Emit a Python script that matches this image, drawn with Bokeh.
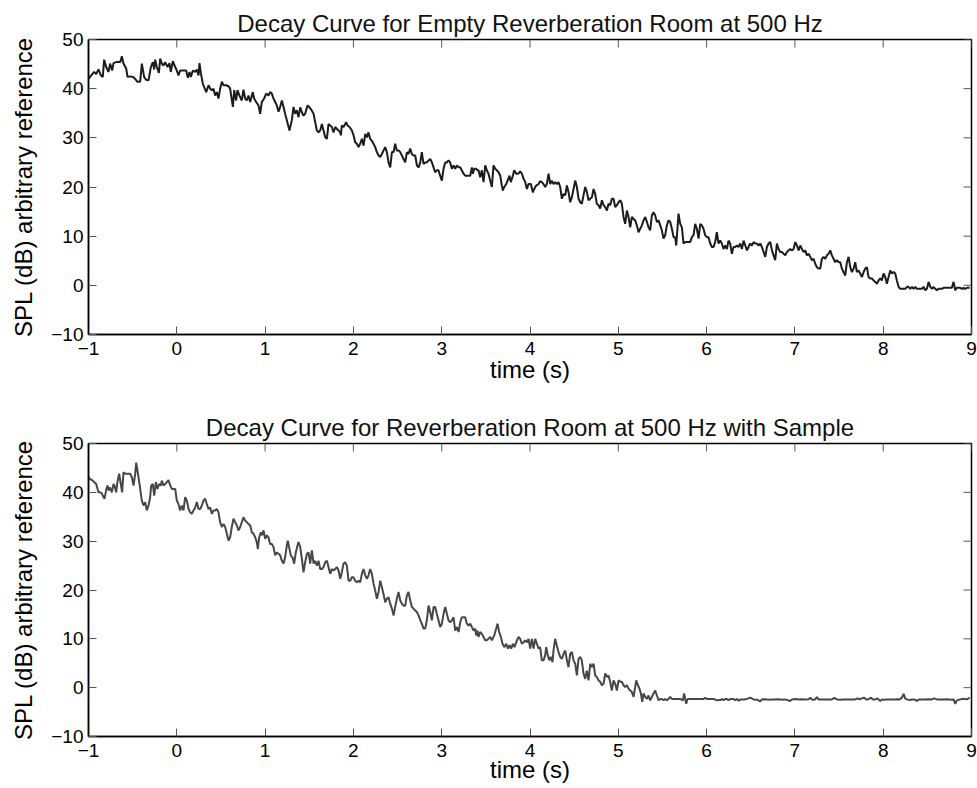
import math
from bokeh.plotting import figure
from bokeh.layouts import column
from bokeh.models import Range1d, FixedTicker
from bokeh.embed import file_html
from bokeh.resources import INLINE

# ---------------- data (time in s, SPL in dB) ----------------
titles = ["Decay Curve for Empty Reverberation Room at 500 Hz",
          "Decay Curve for Reverberation Room at 500 Hz with Sample"]
x_label = "time (s)"
y_label = "SPL (dB) arbitrary reference"
x_ticks = [-1, 0, 1, 2, 3, 4, 5, 6, 7, 8, 9]
y_ticks = [-10, 0, 10, 20, 30, 40, 50]
x_lim = (-1, 9)
y_lim = (-10, 50)

empty_room = [
    (-1.0, 42.0), (-0.936, 43.4), (-0.913, 43.0), (-0.887, 43.9), (-0.86, 42.7), (-0.838, 42.4), (-0.823, 45.9),
    (-0.8, 44.4), (-0.774, 43.4), (-0.755, 45.1), (-0.732, 43.7), (-0.717, 45.2), (-0.687, 45.4), (-0.66, 45.4),
    (-0.641, 45.4), (-0.622, 46.6), (-0.604, 45.1), (-0.573, 44.1), (-0.558, 42.4), (-0.528, 42.5), (-0.498, 42.4),
    (-0.472, 42.0), (-0.445, 41.4), (-0.415, 41.4), (-0.396, 45.1), (-0.37, 42.4), (-0.347, 41.8), (-0.32, 41.7),
    (-0.294, 44.4), (-0.271, 45.4), (-0.256, 43.9), (-0.245, 45.9), (-0.226, 44.4), (-0.203, 43.2), (-0.188, 46.1),
    (-0.169, 45.1), (-0.151, 44.7), (-0.132, 45.4), (-0.105, 44.4), (-0.083, 45.2), (-0.068, 43.4), (-0.045, 45.6),
    (-0.018, 44.4), (0.0, 43.7), (0.019, 42.7), (0.038, 43.7), (0.076, 43.7), (0.106, 43.7), (0.125, 42.2),
    (0.144, 43.4), (0.159, 42.4), (0.182, 43.7), (0.208, 43.4), (0.227, 43.9), (0.246, 42.7), (0.257, 45.2),
    (0.272, 43.2), (0.295, 41.0), (0.31, 40.3), (0.333, 39.3), (0.359, 40.7), (0.378, 40.0), (0.397, 39.7),
    (0.416, 40.0), (0.434, 38.6), (0.453, 39.3), (0.472, 38.0), (0.491, 40.0), (0.51, 41.4), (0.529, 40.7),
    (0.559, 40.7), (0.586, 40.5), (0.604, 40.0), (0.635, 36.3), (0.65, 39.7), (0.672, 37.6), (0.687, 39.7),
    (0.71, 38.6), (0.736, 37.6), (0.755, 39.8), (0.774, 38.0), (0.793, 37.6), (0.812, 38.6), (0.831, 37.3),
    (0.861, 39.3), (0.876, 38.0), (0.899, 37.3), (0.925, 36.6), (0.944, 34.9), (0.963, 37.3), (0.989, 38.0),
    (1.012, 39.0), (1.038, 38.6), (1.057, 39.3), (1.076, 39.0), (1.095, 38.0), (1.114, 37.3), (1.133, 36.6),
    (1.152, 35.3), (1.171, 36.3), (1.19, 37.6), (1.208, 36.3), (1.227, 34.9), (1.246, 33.6), (1.276, 31.5),
    (1.303, 33.6), (1.322, 36.3), (1.34, 34.9), (1.359, 35.6), (1.378, 34.2),
    (1.398, 36.2), (1.416, 35.2), (1.435, 34.5), (1.454, 34.9), (1.481, 36.6), (1.503, 36.2), (1.53, 35.5),
    (1.549, 34.9), (1.567, 33.2), (1.586, 31.5), (1.605, 31.1), (1.624, 31.5), (1.643, 32.8), (1.662, 31.5),
    (1.681, 30.1), (1.7, 29.8), (1.718, 32.8), (1.737, 32.5), (1.756, 32.2), (1.775, 31.1), (1.794, 32.2),
    (1.813, 31.8), (1.832, 31.5), (1.851, 31.1), (1.858, 30.5), (1.869, 32.5), (1.888, 32.2), (1.907, 32.8),
    (1.918, 33.2), (1.934, 32.5), (1.956, 32.2), (1.983, 31.5), (2.002, 30.5), (2.02, 29.1), (2.039, 28.8),
    (2.058, 28.1), (2.077, 28.8), (2.096, 29.8), (2.115, 28.4), (2.134, 30.8), (2.153, 30.1), (2.171, 31.1),
    (2.19, 29.8), (2.209, 29.4), (2.228, 28.8), (2.247, 28.1), (2.266, 27.1), (2.285, 26.4), (2.304, 26.1),
    (2.322, 26.7), (2.341, 27.4), (2.36, 28.1), (2.379, 27.1), (2.398, 25.0), (2.417, 24.0), (2.436, 27.1),
    (2.455, 27.1), (2.473, 28.8), (2.492, 27.4), (2.511, 27.4), (2.53, 27.1), (2.549, 26.4), (2.568, 25.7),
    (2.587, 25.0), (2.606, 27.1), (2.624, 26.7), (2.643, 27.8), (2.662, 26.7), (2.681, 26.4), (2.7, 26.4),
    (2.719, 24.4), (2.738, 24.0), (2.757, 25.0), (2.775, 27.1), (2.794, 24.7), (2.813, 25.0), (2.832, 25.0),
    (2.851, 25.4), (2.87, 25.7), (2.889, 25.0), (2.908, 24.0), (2.926, 23.0), (2.945, 23.4), (2.964, 23.4),
    (2.983, 22.3), (3.002, 21.3), (3.021, 23.7), (3.04, 25.0), (3.059, 25.0), (3.077, 25.4), (3.096, 25.0),
    (3.115, 23.7), (3.134, 24.4), (3.153, 23.7), (3.172, 24.4), (3.191, 24.0), (3.21, 24.0), (3.228, 23.4),
    (3.247, 22.7), (3.266, 22.3), (3.285, 22.3), (3.304, 22.3), (3.323, 22.3), (3.342, 24.0), (3.353, 22.7),
    (3.368, 23.7), (3.391, 23.7), (3.406, 23.4), (3.417, 23.4), (3.436, 22.0), (3.455, 23.4), (3.474, 21.0),
    (3.493, 24.4), (3.511, 23.4), (3.53, 22.7), (3.549, 21.3), (3.568, 20.0), (3.587, 24.4), (3.606, 23.7),
    (3.625, 23.4), (3.644, 23.0), (3.663, 22.3), (3.681, 20.3), (3.693, 19.3), (3.708, 20.0), (3.731, 20.6),
    (3.746, 21.3), (3.768, 22.3), (3.783, 21.0), (3.806, 22.3), (3.821, 23.4), (3.844, 22.7), (3.859, 22.7),
    (3.874, 22.8),
    (3.889, 23.2), (3.908, 22.7), (3.927, 21.7), (3.946, 21.0), (3.965, 19.6), (3.983, 20.6), (4.01, 20.6),
    (4.032, 18.9), (4.048, 19.6), (4.07, 20.3), (4.097, 20.6), (4.115, 21.2), (4.134, 21.0), (4.153, 20.6),
    (4.172, 20.0), (4.191, 20.6), (4.21, 22.7), (4.229, 20.6), (4.248, 21.3), (4.266, 20.6), (4.285, 21.0),
    (4.304, 20.6), (4.323, 21.0), (4.342, 20.0), (4.361, 17.6), (4.38, 18.6), (4.399, 18.3), (4.418, 20.3),
    (4.436, 19.0), (4.455, 16.9), (4.474, 17.9), (4.493, 19.6), (4.512, 21.3), (4.531, 20.0), (4.55, 17.6),
    (4.569, 16.9), (4.587, 16.6), (4.606, 18.3), (4.625, 20.0), (4.644, 19.0), (4.663, 17.3), (4.682, 17.6),
    (4.701, 17.9), (4.72, 19.6), (4.738, 18.6), (4.757, 16.6), (4.776, 16.3), (4.795, 15.6), (4.814, 17.3),
    (4.833, 16.3), (4.852, 15.9), (4.871, 15.2), (4.889, 16.6), (4.908, 16.3), (4.927, 17.6), (4.946, 17.6),
    (4.965, 15.9), (4.984, 16.3), (5.003, 16.9), (5.022, 17.3), (5.04, 16.6), (5.059, 13.9), (5.078, 12.5),
    (5.097, 15.2), (5.116, 13.9), (5.135, 11.8), (5.154, 13.9), (5.173, 13.5), (5.191, 13.2), (5.21, 12.2),
    (5.229, 10.8), (5.248, 11.5), (5.267, 12.2), (5.286, 13.2), (5.305, 13.9), (5.324, 12.9), (5.342, 11.8),
    (5.361, 11.2), (5.38, 14.2), (5.399, 14.9), (5.418, 14.2), (5.437, 12.9), (5.456, 13.2), (5.475, 12.2),
    (5.493, 11.2), (5.512, 9.5), (5.531, 10.2), (5.55, 12.2), (5.569, 13.2), (5.588, 12.9), (5.607, 11.5),
    (5.626, 9.8), (5.644, 9.8), (5.656, 8.1), (5.671, 11.8), (5.682, 14.6), (5.701, 12.5), (5.72, 11.8),
    (5.739, 8.5), (5.758, 8.8), (5.777, 8.8), (5.795, 8.8), (5.814, 8.8), (5.833, 9.8), (5.852, 10.2),
    (5.871, 12.5), (5.89, 11.5), (5.909, 9.5), (5.928, 12.5), (5.946, 12.2), (5.965, 11.5), (5.984, 10.2),
    (6.003, 9.8), (6.022, 9.8), (6.041, 8.5), (6.06, 7.8), (6.079, 7.8), (6.097, 8.8), (6.116, 10.8),
    (6.135, 8.5), (6.154, 9.1), (6.173, 8.5), (6.192, 7.4), (6.211, 8.1), (6.23, 7.4), (6.248, 9.1),
    (6.267, 8.5), (6.286, 6.4), (6.305, 7.8), (6.324, 7.8), (6.343, 8.1), (6.362, 7.8),
    (6.381, 8.5), (6.4, 7.4), (6.419, 9.1), (6.438, 8.1), (6.457, 7.1), (6.475, 7.8), (6.494, 8.5),
    (6.513, 8.1), (6.532, 8.8), (6.551, 8.5), (6.57, 8.5), (6.589, 8.1), (6.608, 8.5), (6.626, 7.8),
    (6.645, 6.8), (6.664, 5.8), (6.683, 7.8), (6.702, 8.5), (6.721, 8.8), (6.74, 7.1), (6.759, 6.1),
    (6.777, 5.1), (6.796, 8.5), (6.815, 7.4), (6.834, 6.8), (6.853, 6.8), (6.872, 6.4), (6.891, 6.1),
    (6.91, 6.8), (6.928, 7.1), (6.947, 7.4), (6.966, 7.1), (6.985, 7.4), (7.004, 8.8), (7.023, 8.1),
    (7.042, 7.1), (7.061, 8.1), (7.079, 7.4), (7.098, 6.8), (7.117, 7.1), (7.136, 6.1), (7.155, 6.4),
    (7.174, 5.8), (7.193, 5.1), (7.212, 5.4), (7.23, 4.4), (7.249, 3.7), (7.268, 3.4), (7.287, 3.4),
    (7.306, 5.4), (7.325, 5.8), (7.344, 5.4), (7.363, 6.1), (7.381, 6.4), (7.4, 7.1), (7.419, 6.1),
    (7.438, 5.4), (7.457, 4.7), (7.476, 5.1), (7.495, 4.7), (7.514, 4.7), (7.532, 3.4), (7.551, 2.7),
    (7.57, 2.0), (7.589, 4.7), (7.608, 5.8), (7.627, 3.7), (7.646, 2.7), (7.665, 3.4), (7.683, 4.7),
    (7.702, 2.7), (7.721, 3.0), (7.74, 2.4), (7.759, 1.7), (7.778, 2.7), (7.797, 3.4), (7.816, 3.7),
    (7.834, 1.7), (7.853, 1.4), (7.872, 1.4), (7.891, 1.0), (7.91, 0.7), (7.929, 0.3), (7.948, 1.0),
    (7.967, 1.4), (7.985, 1.0), (8.004, 2.4), (8.023, 1.7), (8.042, 0.3), (8.061, 1.7), (8.08, 3.0),
    (8.099, 2.4), (8.118, 2.7), (8.136, 2.4), (8.155, 1.0), (8.174, -0.3), (8.193, -0.7), (8.212, -0.7),
    (8.231, -0.7), (8.25, -0.7), (8.269, -0.3), (8.287, -0.3), (8.306, -0.7), (8.325, -0.3), (8.344, -0.7),
    (8.363, -0.3), (8.382, -0.7), (8.401, -0.7), (8.42, -0.7), (8.438, -0.7), (8.457, -0.3), (8.476, -1.0),
    (8.495, -0.7), (8.514, 0.7), (8.533, -0.3), (8.552, -0.7), (8.57, -0.3), (8.589, -0.7), (8.608, -1.0),
    (8.627, -0.7), (8.646, -0.7), (8.665, -0.7), (8.684, -0.5), (8.703, -0.5), (8.721, -0.5), (8.74, -0.5),
    (8.759, -0.5), (8.778, -0.5), (8.797, 0.7), (8.816, -1.0), (8.835, -0.5), (8.854, -0.5), (8.872, -0.5),
    (8.891, -0.7), (8.91, -0.5), (8.929, -0.7), (8.948, -0.5), (8.979, -0.5),
]

with_sample = [
    (-1.0, 43.1), (-0.981, 42.7), (-0.951, 42.4), (-0.936, 42.1), (-0.913, 41.7), (-0.887, 40.0), (-0.868, 40.0),
    (-0.849, 39.8), (-0.83, 39.0), (-0.819, 38.7), (-0.8, 40.4), (-0.785, 41.4), (-0.77, 40.4), (-0.755, 41.0),
    (-0.736, 40.0), (-0.717, 41.7), (-0.706, 41.4), (-0.687, 40.0), (-0.672, 42.1), (-0.653, 43.8), (-0.634, 41.7),
    (-0.619, 40.0), (-0.604, 44.1), (-0.585, 43.8), (-0.566, 43.8), (-0.547, 43.8), (-0.528, 43.8), (-0.509, 43.1),
    (-0.49, 41.4), (-0.471, 43.8), (-0.46, 46.1), (-0.445, 44.4), (-0.422, 41.7), (-0.396, 38.3), (-0.377, 37.3),
    (-0.358, 38.0), (-0.339, 36.3), (-0.32, 37.3), (-0.302, 39.0), (-0.29, 41.4), (-0.271, 41.7), (-0.256, 39.3),
    (-0.237, 42.1), (-0.219, 40.7), (-0.2, 41.7), (-0.181, 41.4), (-0.17, 42.4), (-0.151, 41.4), (-0.132, 41.7),
    (-0.113, 42.1), (-0.094, 42.5), (-0.075, 41.4), (-0.056, 40.7), (-0.037, 40.7), (-0.018, 40.7), (0.0, 38.3),
    (0.019, 37.6), (0.038, 36.3), (0.057, 37.3), (0.076, 36.3), (0.095, 39.0), (0.114, 38.3), (0.133, 36.6),
    (0.151, 35.9), (0.17, 35.6), (0.189, 36.3), (0.208, 36.9), (0.227, 38.0), (0.246, 36.6), (0.265, 36.6),
    (0.284, 37.3), (0.302, 38.3), (0.321, 38.7), (0.34, 37.6), (0.359, 36.6), (0.378, 36.9), (0.397, 35.6),
    (0.416, 36.3), (0.434, 36.3), (0.453, 36.6), (0.472, 35.9), (0.491, 33.9), (0.51, 32.9), (0.529, 33.5),
    (0.548, 32.9), (0.567, 31.5), (0.586, 30.1), (0.604, 30.8), (0.623, 32.9), (0.642, 34.6), (0.661, 33.9),
    (0.68, 33.2), (0.699, 32.2), (0.718, 32.9), (0.737, 33.9), (0.755, 34.9), (0.774, 34.2), (0.793, 33.9),
    (0.812, 33.5), (0.831, 33.2), (0.85, 31.8), (0.869, 31.5), (0.888, 30.8), (0.906, 29.8), (0.918, 28.4),
    (0.933, 30.8), (0.952, 31.8), (0.963, 31.2), (0.982, 32.2), (1.001, 30.5), (1.02, 31.2), (1.038, 30.8),
    (1.057, 29.4), (1.076, 29.4), (1.095, 28.8), (1.114, 27.1), (1.133, 27.7), (1.152, 27.4), (1.171, 27.1),
    (1.19, 26.0), (1.208, 25.4), (1.227, 26.7), (1.246, 29.1), (1.257, 30.1), (1.276, 28.4), (1.291, 27.1),
    (1.31, 26.7), (1.329, 25.4), (1.348, 27.7), (1.367, 29.1), (1.378, 29.8),
    (1.398, 28.8), (1.416, 26.4), (1.435, 23.6), (1.454, 25.7), (1.473, 27.4), (1.492, 27.7), (1.511, 25.4),
    (1.53, 28.1), (1.549, 25.4), (1.567, 26.0), (1.586, 25.0), (1.605, 26.0), (1.624, 24.3), (1.643, 24.3),
    (1.662, 24.7), (1.681, 25.7), (1.7, 26.0), (1.718, 24.7), (1.737, 23.3), (1.756, 24.3), (1.775, 24.0),
    (1.794, 24.3), (1.813, 24.7), (1.832, 24.0), (1.851, 22.3), (1.869, 23.6), (1.888, 25.4), (1.907, 25.7),
    (1.926, 25.0), (1.945, 21.9), (1.964, 21.9), (1.983, 22.6), (2.002, 22.6), (2.02, 21.9), (2.039, 21.6),
    (2.058, 21.9), (2.077, 21.6), (2.096, 23.3), (2.115, 24.3), (2.134, 23.0), (2.153, 22.3), (2.171, 23.0),
    (2.19, 24.3), (2.209, 23.3), (2.228, 21.3), (2.247, 19.9), (2.266, 18.2), (2.285, 19.6), (2.304, 21.9),
    (2.322, 20.6), (2.341, 19.2), (2.36, 17.5), (2.379, 18.2), (2.398, 18.5), (2.417, 17.2), (2.436, 16.2),
    (2.455, 14.8), (2.473, 16.5), (2.492, 18.2), (2.511, 19.6), (2.53, 17.9), (2.549, 17.2), (2.568, 16.8),
    (2.587, 16.8), (2.606, 18.9), (2.624, 19.6), (2.643, 17.9), (2.662, 16.5), (2.681, 16.2), (2.7, 15.8),
    (2.719, 15.5), (2.738, 14.8), (2.757, 13.8), (2.775, 13.1), (2.794, 12.1), (2.813, 12.1), (2.832, 13.8),
    (2.851, 16.8), (2.87, 15.5), (2.889, 13.8), (2.908, 16.5), (2.926, 16.5), (2.945, 15.1), (2.964, 13.8),
    (2.983, 12.4), (3.002, 13.1), (3.021, 15.1), (3.04, 16.5), (3.059, 15.1), (3.077, 13.8), (3.096, 13.4),
    (3.115, 13.8), (3.134, 14.4), (3.153, 11.7), (3.172, 12.4), (3.191, 11.4), (3.21, 13.4), (3.228, 14.4),
    (3.247, 14.4), (3.266, 14.4), (3.285, 13.1), (3.304, 12.7), (3.323, 13.1), (3.342, 12.4), (3.361, 11.7),
    (3.379, 12.1), (3.391, 10.7), (3.406, 11.7), (3.417, 10.4), (3.436, 11.4), (3.455, 11.0), (3.474, 10.4),
    (3.493, 9.7), (3.511, 9.7), (3.53, 10.0), (3.549, 10.4), (3.568, 9.7), (3.595, 10.7), (3.617, 12.1),
    (3.632, 13.1), (3.651, 11.4), (3.67, 10.4), (3.689, 9.0), (3.708, 8.3), (3.731, 9.0), (3.75, 8.0),
    (3.768, 8.7), (3.787, 8.0), (3.806, 9.0), (3.825, 8.3), (3.844, 9.3), (3.87, 10.4),
    (3.889, 10.0), (3.908, 9.0), (3.927, 9.3), (3.946, 9.7), (3.965, 9.3), (3.983, 10.0), (4.002, 8.0),
    (4.021, 10.0), (4.04, 8.0), (4.059, 10.0), (4.078, 9.0), (4.097, 8.0), (4.115, 8.3), (4.134, 5.6),
    (4.153, 5.6), (4.172, 6.6), (4.183, 8.3), (4.199, 6.9), (4.217, 5.6), (4.236, 6.3), (4.255, 5.2),
    (4.266, 7.6), (4.285, 10.0), (4.304, 8.6), (4.323, 7.3), (4.342, 6.3), (4.361, 5.9), (4.38, 6.9),
    (4.399, 7.6), (4.418, 5.6), (4.436, 4.2), (4.455, 6.9), (4.474, 7.3), (4.493, 5.6), (4.512, 4.9),
    (4.531, 2.5), (4.55, 5.9), (4.569, 6.3), (4.587, 5.6), (4.606, 2.9), (4.625, 1.8), (4.644, 3.5),
    (4.663, 1.5), (4.682, 4.9), (4.701, 4.2), (4.72, 4.9), (4.738, 2.5), (4.757, 2.2), (4.776, 1.5),
    (4.795, 1.2), (4.814, 0.5), (4.833, 0.8), (4.852, 2.9), (4.871, 2.2), (4.889, 2.5), (4.908, 1.2),
    (4.927, -0.6), (4.946, 1.5), (4.965, 0.8), (4.984, -0.6), (5.003, 1.5), (5.022, 1.2), (5.04, 1.2),
    (5.059, 0.5), (5.078, 0.1), (5.097, 0.5), (5.116, -0.2), (5.135, -0.6), (5.154, -0.9), (5.173, -1.9),
    (5.191, 0.1), (5.203, 1.5), (5.222, 0.5), (5.24, -0.2), (5.256, -1.2), (5.271, -2.9), (5.286, -1.2),
    (5.305, -1.9), (5.324, -2.3), (5.342, -1.6), (5.361, -2.6), (5.38, -1.9), (5.399, -1.2), (5.418, -0.6),
    (5.437, -1.6), (5.456, -2.6), (5.475, -2.3), (5.493, -2.3), (5.512, -2.6), (5.531, -2.3), (5.55, -2.6),
    (5.569, -2.3), (5.588, -1.9), (5.607, -2.3), (5.626, -2.3), (5.663, -2.3), (5.701, -2.3), (5.731, -2.6),
    (5.746, -1.2), (5.757, -2.3), (5.769, -3.3), (5.784, -2.3), (5.814, -2.3), (5.852, -2.3), (5.89, -2.3),
    (5.928, -2.3), (5.965, -2.3), (5.984, -2.1), (6.003, -2.3), (6.041, -2.3), (6.079, -2.3), (6.116, -2.6),
    (6.135, -2.5), (6.154, -2.6), (6.173, -2.3), (6.192, -2.6), (6.211, -2.3), (6.23, -2.3), (6.248, -2.6),
    (6.267, -2.3), (6.305, -2.3), (6.324, -2.6), (6.343, -2.3), (6.362, -2.7),
    (6.381, -2.4), (6.419, -2.4), (6.457, -2.3), (6.494, -2.05), (6.532, -2.4), (6.57, -2.45), (6.608, -2.8),
    (6.626, -2.4), (6.664, -2.35), (6.702, -2.45), (6.74, -2.4), (6.777, -2.4), (6.815, -2.35), (6.853, -2.45),
    (6.891, -2.4), (6.928, -2.6), (6.94, -2.8), (6.966, -2.4), (7.004, -2.3), (7.042, -2.4), (7.079, -2.35),
    (7.117, -2.4), (7.155, -2.35), (7.174, -2.05), (7.193, -2.45), (7.23, -2.4), (7.249, -1.9), (7.268, -2.4),
    (7.306, -2.4), (7.344, -2.4), (7.381, -2.4), (7.419, -2.4), (7.446, -2.1), (7.476, -2.4), (7.514, -2.45),
    (7.551, -2.4), (7.589, -2.4), (7.627, -2.4), (7.683, -2.4), (7.71, -2.2), (7.732, -2.4), (7.759, -2.2),
    (7.785, -2.05), (7.808, -2.4), (7.834, -2.35), (7.861, -2.05), (7.883, -2.4), (7.91, -2.4), (7.936, -2.2),
    (7.967, -2.75), (7.985, -2.4), (8.004, -2.45), (8.042, -2.4), (8.08, -2.4), (8.118, -2.4), (8.155, -2.35),
    (8.185, -2.4), (8.212, -2.05), (8.231, -1.25), (8.25, -2.25), (8.269, -2.4), (8.306, -2.55), (8.325, -2.4),
    (8.363, -2.45), (8.382, -2.75), (8.401, -2.4), (8.438, -2.4), (8.476, -2.4), (8.514, -2.35), (8.552, -2.4),
    (8.578, -2.2), (8.608, -2.4), (8.646, -2.4), (8.684, -2.4), (8.721, -2.35), (8.759, -2.45), (8.797, -2.4),
    (8.816, -3.3), (8.835, -2.6), (8.872, -2.4), (8.91, -2.25), (8.948, -2.4), (8.979, -2.05),
]

line_colors = ["#1c1c1c", "#474747"]

FONT = "Liberation Sans"
TICK_COLOR = "#555555"


def make_panel(title, series, color, height, border_top, border_bottom, xlabel_standoff):
    p = figure(width=977, height=height, output_backend="svg", toolbar_location=None,
               x_range=Range1d(*x_lim), y_range=Range1d(*y_lim),
               min_border_left=88, min_border_right=6,
               min_border_top=border_top, min_border_bottom=border_bottom,
               background_fill_color="white", border_fill_color="white")
    p.title.text = title
    p.title.align = "center"
    p.title.text_font = FONT
    p.title.text_font_size = "24px"
    p.title.text_font_style = "normal"
    p.title.text_color = "#111111"
    p.title.standoff = 6
    p.grid.visible = False
    p.outline_line_color = "black"
    p.outline_line_width = 1.5

    for ax, ticks in ((p.xaxis[0], x_ticks), (p.yaxis[0], y_ticks)):
        ax.ticker = FixedTicker(ticks=ticks)
        ax.major_tick_in = 8
        ax.major_tick_out = 0
        ax.major_tick_line_color = TICK_COLOR
        ax.major_tick_line_width = 1
        ax.minor_tick_line_color = None
        ax.axis_line_color = "black"
        ax.axis_line_width = 1.5
        ax.major_label_text_font = FONT
        ax.major_label_text_font_size = "19px"
        ax.major_label_text_color = "black"
        ax.axis_label_text_font = FONT
        ax.axis_label_text_font_size = "24px"
        ax.axis_label_text_font_style = "normal"
        ax.axis_label_text_color = "black"
    p.xaxis[0].axis_label = x_label
    p.xaxis[0].major_label_standoff = 7
    p.xaxis[0].axis_label_standoff = xlabel_standoff
    p.yaxis[0].axis_label = y_label
    p.yaxis[0].major_label_standoff = 5
    p.yaxis[0].axis_label_standoff = 11

    # mirrored inward ticks on the top and right frame edges
    p.ray(x=x_ticks, y=[y_lim[1]] * len(x_ticks), length=8, length_units="screen",
          angle=-math.pi / 2, line_color=TICK_COLOR, line_width=1)
    p.ray(x=[x_lim[1]] * len(y_ticks), y=y_ticks, length=8, length_units="screen",
          angle=math.pi, line_color=TICK_COLOR, line_width=1)

    ts = [pt[0] for pt in series]
    vs = [pt[1] for pt in series]
    p.line(ts, vs, line_color=color, line_width=2)
    return p


p1 = make_panel(titles[0], empty_room, line_colors[0], 394, 39, 60, -2)
p2 = make_panel(titles[1], with_sample, line_colors[1], 394, 49, 52, -4)

layout = column(p1, p2, spacing=0)
open("out.html", "w").write(file_html(layout, INLINE))
